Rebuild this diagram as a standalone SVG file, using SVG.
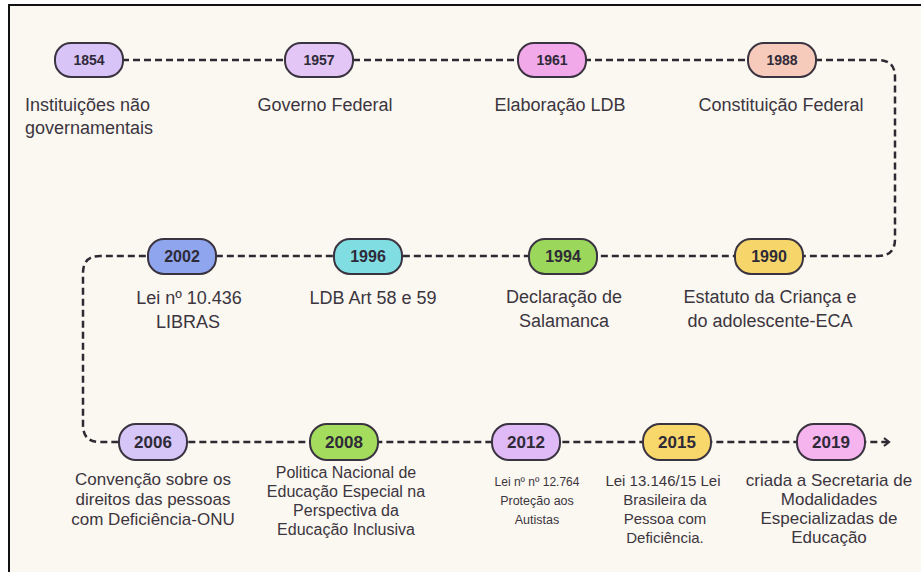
<svg xmlns="http://www.w3.org/2000/svg" width="921" height="572" viewBox="0 0 921 572">
<style>
.pill{stroke:#3a3340;stroke-width:2}
.yr{font-family:"Liberation Sans",Arial,sans-serif;font-weight:bold;fill:#2f2a38;text-anchor:middle}
.r1{font-size:14px}
.r2{font-size:16px}
.r3{font-size:17px}
.lb{font-family:"Liberation Sans",Arial,sans-serif;fill:#3b3540;text-anchor:middle;font-size:18px}
.st{text-anchor:start}
.conn{fill:none;stroke:#2e2a33;stroke-width:2.5;stroke-dasharray:7 4}
</style>
<defs>
<marker id="arr" markerWidth="10" markerHeight="10" refX="6" refY="5" orient="auto" markerUnits="userSpaceOnUse">
<path d="M2 1 L7 5 L2 9" fill="none" stroke="#2e2a33" stroke-width="2.2"/>
</marker>
</defs>
<rect x="0" y="0" width="921" height="572" fill="#ffffff"/>
<rect x="9" y="5" width="920" height="575" fill="#fbf8f1" stroke="#111" stroke-width="2"/>
<g id="connectors">
<path class="conn" d="M 89 60 H 878 Q 895 60 895 77 V 239 Q 895 256 878 256 H 100 Q 83 256 83 273 V 425 Q 83 442 100 442 H 888" marker-end="url(#arr)"/>
</g>
<g id="n1854"><rect class="pill" x="55" y="43" width="68" height="34" rx="16" fill="#d9c4f8"/><text class="yr r1" x="89" y="65">1854</text><text class="lb st" x="25" y="111">Instituições não</text><text class="lb st" x="25" y="134">governamentais</text></g>
<g id="n1957"><rect class="pill" x="285" y="43" width="68" height="34" rx="16" fill="#e3c6f6"/><text class="yr r1" x="319" y="65">1957</text><text class="lb" x="325" y="111">Governo Federal</text></g>
<g id="n1961"><rect class="pill" x="518" y="43" width="68" height="34" rx="16" fill="#f2a9ea"/><text class="yr r1" x="552" y="65">1961</text><text class="lb" x="560" y="111">Elaboração LDB</text></g>
<g id="n1988"><rect class="pill" x="748" y="43" width="68" height="34" rx="16" fill="#f7cbbb"/><text class="yr r1" x="782" y="65">1988</text><text class="lb" x="781" y="111">Constituição Federal</text></g>
<g id="n2002"><rect class="pill" x="148" y="239" width="68" height="35" rx="16" fill="#8fa6ef"/><text class="yr r2" x="182" y="262">2002</text><text class="lb" x="189" y="304">Lei nº 10.436</text><text class="lb" x="188" y="328">LIBRAS</text></g>
<g id="n1996"><rect class="pill" x="334" y="239" width="68" height="35" rx="16" fill="#80dde2"/><text class="yr r2" x="368" y="262">1996</text><text class="lb" x="373" y="304">LDB Art 58 e 59</text></g>
<g id="n1994"><rect class="pill" x="529" y="239" width="68" height="35" rx="16" fill="#9bd75b"/><text class="yr r2" x="563" y="262">1994</text><text class="lb" x="564" y="303">Declaração de</text><text class="lb" x="564" y="327">Salamanca</text></g>
<g id="n1990"><rect class="pill" x="735" y="239" width="68" height="35" rx="16" fill="#f6d66b"/><text class="yr r2" x="769" y="262">1990</text><text class="lb" x="770" y="303">Estatuto da Criança e</text><text class="lb" x="770" y="327">do adolescente-ECA</text></g>
<g id="n2006"><rect class="pill" x="119" y="424" width="68" height="36" rx="17" fill="#d6c6f7"/><text class="yr r3" x="153" y="448">2006</text><text class="lb" x="153" y="485" style="font-size:17px">Convenção sobre os</text><text class="lb" x="153" y="505" style="font-size:17px">direitos das pessoas</text><text class="lb" x="153" y="525" style="font-size:17px">com Deficiência-ONU</text></g>
<g id="n2008"><rect class="pill" x="310" y="424" width="68" height="36" rx="17" fill="#a4dd5e"/><text class="yr r3" x="344" y="448">2008</text><text class="lb" x="346" y="478" style="font-size:16px">Politica Nacional de</text><text class="lb" x="346" y="497" style="font-size:16px">Educação Especial na</text><text class="lb" x="346" y="516" style="font-size:16px">Perspectiva da</text><text class="lb" x="346" y="535" style="font-size:16px">Educação Inclusiva</text></g>
<g id="n2012"><rect class="pill" x="492" y="424" width="68" height="36" rx="17" fill="#dfbaf6"/><text class="yr r3" x="526" y="448">2012</text><text class="lb" x="537" y="486" style="font-size:12px">Lei nº nº 12.764</text><text class="lb" x="537" y="505" style="font-size:12.5px">Proteção aos</text><text class="lb" x="537" y="524" style="font-size:12.5px">Autistas</text></g>
<g id="n2015"><rect class="pill" x="643" y="424" width="68" height="36" rx="17" fill="#f9d86b"/><text class="yr r3" x="677" y="448">2015</text><text class="lb" x="663" y="486" style="font-size:15px">Lei 13.146/15 Lei</text><text class="lb" x="665" y="505" style="font-size:15px">Brasileira da</text><text class="lb" x="665" y="524" style="font-size:15px">Pessoa com</text><text class="lb" x="665" y="543" style="font-size:15px">Deficiência.</text></g>
<g id="n2019"><rect class="pill" x="797" y="424" width="68" height="36" rx="17" fill="#f5b4ed"/><text class="yr r3" x="831" y="448">2019</text><text class="lb" x="829" y="486" style="font-size:17px">criada a Secretaria de</text><text class="lb" x="829" y="505" style="font-size:17px">Modalidades</text><text class="lb" x="829" y="524" style="font-size:17px">Especializadas de</text><text class="lb" x="829" y="543" style="font-size:17px">Educação</text></g>
</svg>
